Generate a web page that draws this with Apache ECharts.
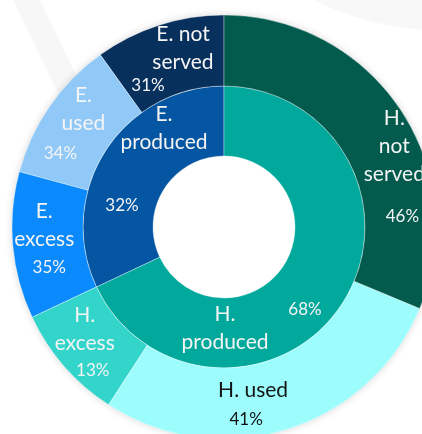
<!DOCTYPE html>
<html>
<head>
<meta charset="utf-8">
<script src="https://cdn.jsdelivr.net/npm/echarts@6/dist/echarts.min.js"></script>
<style>
  html, body { margin: 0; padding: 0; background: #fff; }
  #main { width: 422px; height: 434px; }
</style>
</head>
<body>
<div id="main"></div>
<script type="text/javascript">
// inner ring: what is produced
var innerNames = ['E.\nproduced', 'H.\nproduced'];
var innerShare = [32, 68];
// outer ring: split of each produced part (percent of its parent)
var outerNames = ['E. not\nserved', 'E.\nused', 'E.\nexcess', 'H.\nexcess', 'H. used', 'H.\nnot\nserved'];
var outerShare = [31, 34, 35, 13, 41, 46];
var outerParent = [0, 0, 0, 1, 1, 1];

(function(){
    var myChart = echarts.init(document.getElementById('main'));

    var innerColors = ['#0556a2', '#00a99b'];
    var outerColors = ['#07305c', '#90c9f7', '#0a8afc', '#33d5cb', '#9dfdfd', '#025b4d'];
    var outerTextColors = ['#f4f4f4', '#f4f4f4', '#f4f4f4', '#f4f4f4', '#141414', '#f4f4f4'];

    // label nudges (names / percents), relative to the sector centre
    var innerNameOff = [[32, -40], [-91, 43]];
    var innerPctOff = [[-10, 37], [-11, 24]];
    var outerNameOff = [[14, -8], [7, -16], [-1, -18], [-4, -16], [-24, -8], [21, 19]];
    var outerPctOff = [[-21, 29], [-16, 29], [4, 25], [4, 25], [-31, 21], [29, 89]];

    var center = [224, 227];
    var font = 'Lato';

    var outerValues = outerShare.map(function (s, i) {
        return innerShare[outerParent[i]] * s / 100;
    });

    function ring(names, values, colors, radius, labelFn, visible) {
        return {
            type: 'pie',
            center: center,
            radius: radius,
            startAngle: 90,
            clockwise: false,
            silent: !visible,
            animation: false,
            avoidLabelOverlap: false,
            labelLayout: { hideOverlap: false },
            emphasis: { disabled: true },
            labelLine: { show: false },
            data: values.map(function (v, i) {
                return {
                    name: names[i],
                    value: v,
                    itemStyle: visible ? {
                        color: colors[i],
                        borderColor: 'rgba(255,255,255,0.35)',
                        borderWidth: 1
                    } : { color: 'rgba(0,0,0,0)', borderWidth: 0 },
                    label: labelFn(i)
                };
            })
        };
    }

    var innerR = [71, 141];
    var outerR = [141, 212];

    var option = {
        backgroundColor: '#fff',
        graphic: [
            // faint decoration behind the chart
            { type: 'line', z: -10, shape: { x1: 24, y1: -5, x2: 70, y2: 90 }, style: { stroke: '#f7f7f7', lineWidth: 24 } },
            { type: 'circle', z: -10, shape: { cx: 440, cy: -250, r: 280 }, style: { fill: '#f8f8f8' } },
            // soft halo round the outer ring
            { type: 'circle', z: -5, shape: { cx: 224, cy: 227, r: 211 },
              style: { fill: '#fff', shadowBlur: 8, shadowColor: 'rgba(0,0,0,0.2)' } }
        ],
        series: [
            ring(innerNames, innerShare, innerColors, innerR, function (i) {
                return {
                    show: true, position: 'inside', formatter: '{b}',
                    color: '#f4f4f4', fontFamily: font, fontSize: 21, lineHeight: 28,
                    offset: innerNameOff[i]
                };
            }, true),
            ring(innerNames, innerShare, innerColors, innerR, function (i) {
                return {
                    show: true, position: 'inside', formatter: innerShare[i] + '%',
                    color: '#f4f4f4', fontFamily: font, fontSize: 17,
                    offset: innerPctOff[i]
                };
            }, false),
            ring(outerNames, outerValues, outerColors, outerR, function (i) {
                return {
                    show: true, position: 'inside', formatter: '{b}',
                    color: outerTextColors[i], fontFamily: font, fontSize: 21, lineHeight: 28,
                    offset: outerNameOff[i]
                };
            }, true),
            ring(outerNames, outerValues, outerColors, outerR, function (i) {
                return {
                    show: true, position: 'inside', formatter: outerShare[i] + '%',
                    color: outerTextColors[i], fontFamily: font, fontSize: 17,
                    offset: outerPctOff[i]
                };
            }, false)
        ]
    };

    myChart.setOption(option);
})();
</script>
</body>
</html>
